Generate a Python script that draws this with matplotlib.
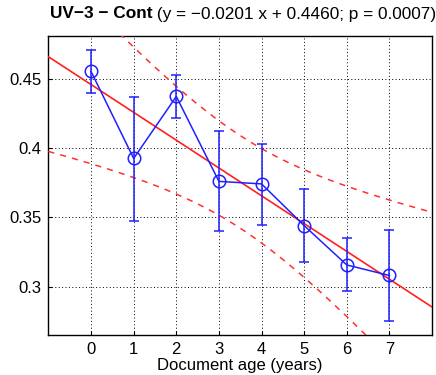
import numpy as np
import matplotlib
matplotlib.use("Agg")
import matplotlib.pyplot as plt
from matplotlib.ticker import FuncFormatter

plt.rcParams['font.family'] = ['Liberation Sans', 'DejaVu Sans']

# Data
ages = [0, 1, 2, 3, 4, 5, 6, 7]
means = [0.4555, 0.3926, 0.4374, 0.3760, 0.3742, 0.3440, 0.3156, 0.3080]
err_upper = [0.4711, 0.4370, 0.4526, 0.4125, 0.4030, 0.3707, 0.3348, 0.3409]
err_lower = [0.4396, 0.3474, 0.4219, 0.3404, 0.3447, 0.3175, 0.2969, 0.2748]

slope = -0.0201
intercept = 0.4460
p_value = 0.0007
# confidence band: halfwidth^2 = band_a + band_b * (x - band_center)^2
band_a = 0.00112
band_b = 0.000176
band_center = 3.5

xticks = [0, 1, 2, 3, 4, 5, 6, 7]
yticks = [0.30, 0.35, 0.40, 0.45]
xlim = (-1, 8)
ylim = (0.265, 0.481)

fig = plt.figure(figsize=(4.36, 3.75), dpi=100)
ax = fig.add_axes([0.111, 0.1067, 0.880, 0.797])

ax.set_xlim(*xlim)
ax.set_ylim(*ylim)
ax.set_xticks(xticks)
ax.set_yticks(yticks)
ax.yaxis.set_major_formatter(FuncFormatter(lambda v, p: f"{v:g}"))
ax.grid(True, color='black', linestyle=(0, (1, 2.5)), linewidth=0.7)
ax.tick_params(direction='in', length=3, labelsize=12, colors='black', pad=5)
for s in ax.spines.values():
    s.set_linewidth(1.0)
    s.set_color('black')

xx = np.linspace(xlim[0], xlim[1], 400)
fit = intercept + slope * xx
hw = np.sqrt(band_a + band_b * (xx - band_center) ** 2)
ax.plot(xx, fit, color='#ff2020', lw=1.2, zorder=3)
ax.plot(xx, fit + hw, color='#ff3030', lw=1.1, ls=(0, (4, 4)), zorder=3)
ax.plot(xx, fit - hw, color='#ff3030', lw=1.1, ls=(0, (4, 4)), zorder=3)

m = np.array(means)
yerr = np.vstack([m - np.array(err_lower), np.array(err_upper) - m])
ax.errorbar(ages, means, yerr=yerr, color='#2020ff', lw=1.1, elinewidth=1.1,
            capsize=3.3, capthick=1.0, marker='o', markersize=9,
            markerfacecolor='none', markeredgewidth=1.1, zorder=4)

ax.set_xlabel("Document age (years)", fontsize=12, labelpad=1)

t1 = fig.text(50 / 436, 1 - 14 / 375, "UV\u22123 \u2212 Cont", fontsize=12.4,
              fontweight='bold', ha='left', va='center')
fig.canvas.draw()
ax.annotate(f" (y = \u2212{abs(slope):.4f} x + {intercept:.4f}; p = {p_value:.4f})",
            xy=(1, 0.5), xycoords=t1, ha='left', va='center', fontsize=12.4)

fig.savefig("out.png", dpi=100)
